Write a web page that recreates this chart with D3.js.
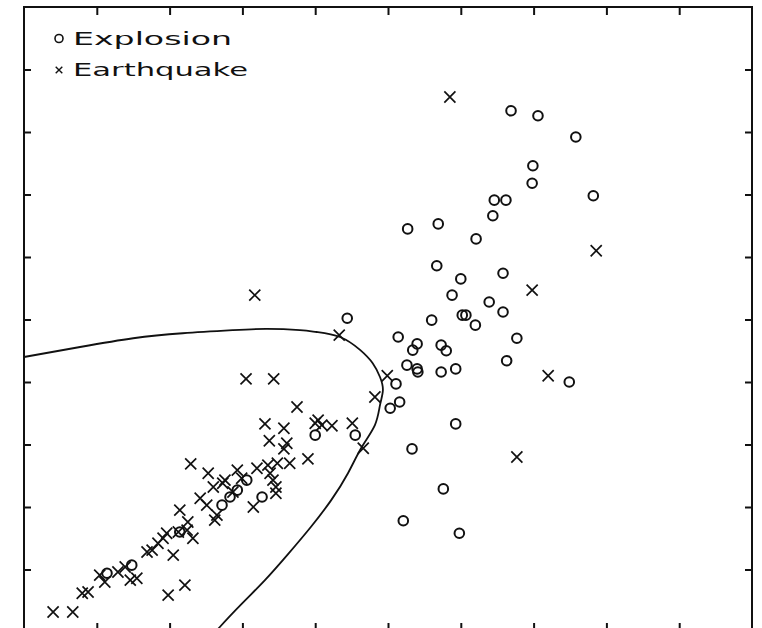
<!DOCTYPE html>
<html>
<head>
<meta charset="utf-8">
<script src="https://cdn.jsdelivr.net/npm/d3@7"></script>
<style>
body { margin: 0; background: #fff; }
</style>
</head>
<body>
<script>
// data, in axis units (one unit per tick)
let explosion = [
	[6.69, 8.34], [7.06, 8.26], [7.58, 7.92], [6.99, 7.46], [6.98, 7.18], [7.82, 6.98],
	[6.46, 6.91], [6.62, 6.91], [6.44, 6.66], [5.27, 6.45], [5.69, 6.53], [6.21, 6.29],
	[5.67, 5.86], [6.58, 5.74], [6.00, 5.65], [5.88, 5.39], [6.39, 5.28], [6.58, 5.12],
	[6.02, 5.07], [6.07, 5.07], [6.20, 4.91], [5.60, 4.99], [4.44, 5.02], [5.14, 4.72],
	[6.77, 4.70], [5.40, 4.61], [5.34, 4.51], [5.73, 4.59], [5.80, 4.50], [6.63, 4.34],
	[5.26, 4.27], [5.40, 4.21], [5.41, 4.16], [5.73, 4.16], [5.93, 4.21], [7.49, 4.00],
	[5.11, 3.97], [5.16, 3.68], [5.03, 3.58], [5.93, 3.33], [5.33, 2.93], [5.76, 2.29],
	[5.21, 1.78], [5.98, 1.58], [4.00, 3.15], [4.55, 3.15], [3.27, 2.16], [3.06, 2.43],
	[2.72, 2.03], [2.83, 2.16], [2.93, 2.27], [2.14, 1.60], [1.48, 1.07], [1.14, 0.94]
];

let earthquake = [
	[5.85, 8.56], [7.86, 6.10], [6.98, 5.47], [3.17, 5.39], [4.33, 4.75], [7.20, 4.10],
	[4.99, 4.10], [4.82, 3.76], [6.77, 2.80], [3.05, 4.05], [3.43, 4.05], [3.75, 3.60],
	[3.31, 3.33], [3.57, 3.26], [4.00, 3.34], [4.04, 3.39], [4.09, 3.31], [4.23, 3.30],
	[4.51, 3.34], [4.66, 2.94], [3.37, 3.06], [3.57, 2.93], [3.90, 2.77], [3.65, 2.70],
	[2.29, 2.69], [2.53, 2.54], [2.93, 2.59], [3.20, 2.62], [3.35, 2.67], [3.48, 2.70],
	[3.38, 2.54], [3.42, 2.43], [3.46, 2.32], [3.46, 2.22], [3.15, 2.00], [2.60, 2.32],
	[2.76, 2.43], [2.42, 2.14], [2.51, 2.03], [2.65, 1.87], [2.14, 1.95], [2.25, 1.76],
	[2.62, 1.79], [2.99, 2.46], [2.87, 2.24], [2.32, 1.50], [2.05, 1.23], [1.96, 1.58],
	[1.76, 1.31], [1.84, 1.42], [1.91, 1.50], [1.69, 1.28], [2.12, 1.60], [0.40, 0.32],
	[0.67, 0.32], [0.80, 0.62], [0.88, 0.64], [1.04, 0.91], [1.11, 0.80], [1.29, 0.96],
	[1.39, 1.04], [1.46, 0.83], [1.55, 0.86], [1.98, 0.59], [2.21, 0.75], [2.73, 2.38],
	[3.61, 3.02], [2.24, 1.63]
];

// quadratic discriminant boundary
let boundary = [
	[0.00, 4.40], [0.77, 4.56], [1.50, 4.70], [2.18, 4.78], [2.87, 4.83], [3.34, 4.85],
	[3.79, 4.83], [4.02, 4.80], [4.34, 4.72], [4.62, 4.51], [4.79, 4.30], [4.89, 4.08],
	[4.93, 3.87], [4.89, 3.63], [4.82, 3.31], [4.64, 2.96], [4.45, 2.54], [4.22, 2.11],
	[3.94, 1.68], [3.63, 1.25], [3.31, 0.83], [2.99, 0.45], [2.69, 0.08], [2.64, 0.00]
];

let tickVals = [1, 2, 3, 4, 5, 6, 7, 8, 9];
let legendLabels = ["Explosion", "Earthquake"];

let svg = d3.select("body").append("svg")
	.attr("width", 762)
	.attr("height", 628);

let margin = {top: 7, left: 24, right: 10, bottom: -4}; // bottom edge sits just below the picture
let width = 762 - margin.left - margin.right;
let height = 628 - margin.top - margin.bottom;

let x = d3.scaleLinear().domain([0, 10]).range([margin.left, margin.left + width]);
let y = d3.scaleLinear().domain([0, 10]).range([margin.top + height, margin.top]);

svg.append("rect")
	.attr("width", 762)
	.attr("height", 628)
	.attr("fill", "#fff");

// ticks on all four sides, pointing inwards, no labels
function tidy(g) {
	g.select(".domain").remove();
	g.selectAll("line").attr("stroke", "#111").attr("stroke-width", 2);
}

svg.append("g")
	.attr("transform", `translate(0, ${y(10)})`)
	.call(d3.axisBottom(x).tickValues(tickVals).tickSize(8).tickFormat(""))
	.call(tidy);

svg.append("g")
	.attr("transform", `translate(0, ${y(0)})`)
	.call(d3.axisTop(x).tickValues(tickVals).tickSize(9).tickFormat(""))
	.call(tidy);

svg.append("g")
	.attr("transform", `translate(${x(0)}, 0)`)
	.call(d3.axisRight(y).tickValues(tickVals).tickSize(7).tickFormat(""))
	.call(tidy);

svg.append("g")
	.attr("transform", `translate(${x(10)}, 0)`)
	.call(d3.axisLeft(y).tickValues(tickVals).tickSize(7).tickFormat(""))
	.call(tidy);

svg.append("rect")
	.attr("x", x(0))
	.attr("y", y(10))
	.attr("width", x(10) - x(0))
	.attr("height", y(0) - y(10))
	.attr("fill", "none")
	.attr("stroke", "#111")
	.attr("stroke-width", 2);

// boundary curve
let line = d3.line()
	.x(d => x(d[0]))
	.y(d => y(d[1]))
	.curve(d3.curveNatural);

svg.append("path")
	.datum(boundary)
	.attr("d", line)
	.attr("fill", "none")
	.attr("stroke", "#111")
	.attr("stroke-width", 1.8);

// explosions as open circles
svg.append("g").selectAll("circle")
	.data(explosion)
	.enter().append("circle")
	.attr("cx", d => x(d[0]))
	.attr("cy", d => y(d[1]))
	.attr("r", 4.8)
	.attr("fill", "none")
	.attr("stroke", "#111")
	.attr("stroke-width", 2);

// earthquakes as crosses
let cross = d3.symbol().type(d3.symbolTimes).size(82);

svg.append("g").selectAll("path")
	.data(earthquake)
	.enter().append("path")
	.attr("transform", d => `translate(${x(d[0])}, ${y(d[1])})`)
	.attr("d", cross)
	.attr("fill", "none")
	.attr("stroke", "#111")
	.attr("stroke-width", 1.7);

// legend
let legend = svg.append("g")
	.attr("font-family", "DejaVu Sans")
	.attr("font-size", 18)
	.attr("fill", "#111");

legend.append("circle")
	.attr("cx", 59)
	.attr("cy", 38.5)
	.attr("r", 4)
	.attr("fill", "none")
	.attr("stroke", "#111")
	.attr("stroke-width", 1.6);

legend.append("path")
	.attr("transform", "translate(59, 70)")
	.attr("d", d3.symbol().type(d3.symbolTimes).size(30))
	.attr("fill", "none")
	.attr("stroke", "#111")
	.attr("stroke-width", 1.4);

legend.selectAll("text")
	.data(legendLabels)
	.enter().append("text")
	.attr("x", 73)
	.attr("y", (d, i) => 45 + i * 30.5)
	.attr("textLength", (d, i) => i == 0 ? 159 : 175)
	.attr("lengthAdjust", "spacingAndGlyphs")
	.text(d => d);
</script>
</body>
</html>
